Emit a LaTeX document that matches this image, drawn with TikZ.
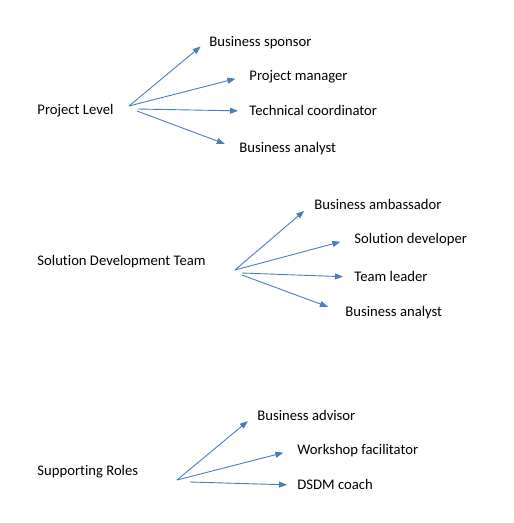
\documentclass[tikz,border=0pt]{standalone}
\usepackage{fontspec}
\setmainfont{Carlito}[Ligatures=NoCommon]
\usepackage{xcolor}
\usetikzlibrary{arrows,arrows.meta}
\definecolor{roleblue}{RGB}{74,126,187}

\begin{document}
\begin{tikzpicture}[x=1pt,y=-1pt,-{Triangle[length=8pt,width=6pt]},color=roleblue,line width=0.9pt]
\useasboundingbox (0,0) rectangle (514,523);
\tikzstyle{every node} = [anchor=west, inner sep=3pt, text=black, text height=1.9ex, text depth=0ex, font=\fontsize{14.67}{17}\selectfont]
\node (1) at (34,110) {Project Level};
\node (2) at (206,42) {Business sponsor};
\node (3) at (246,76) {Project manager};
\node (4) at (246,111) {Technical coordinator};
\node (5) at (236,148) {Business analyst};
\node (6) at (34,261) {Solution Development Team};
\node (7) at (311,205) {Business ambassador};
\node (8) at (351,239) {Solution developer};
\node (9) at (351,277) {Team leader};
\node (10) at (342,312) {Business analyst};
\node (11) at (34,471) {Supporting Roles};
\node (12) at (254,416) {Business advisor};
\node (13) at (294,450) {Workshop facilitator};
\node (14) at (294,485) {DSDM coach};
\coordinate (1a) at (129,106);
\coordinate (1b) at (138,109);
\coordinate (1c) at (137,111);
\coordinate (6a) at (235,270);
\coordinate (6b) at (242,273);
\coordinate (6c) at (242,275);
\coordinate (11a) at (177,480);
\coordinate (11b) at (190,482);
\draw[shorten >=7pt] (1a) -- (2.west);
\draw[shorten >=11pt] (1a) -- (3.west);
\draw[shorten >=8pt] (1b) -- (4.west);
\draw[shorten >=12pt] (1c) -- (5.west);
\draw[shorten >=9pt] (6a) -- (7.west);
\draw[shorten >=11pt] (6a) -- (8.west);
\draw[shorten >=8pt] (6b) -- (9.west);
\draw[shorten >=15pt] (6c) -- (10.west);
\draw[shorten >=8pt] (11a) -- (12.west);
\draw[shorten >=11pt] (11a) -- (13.west);
\draw[shorten >=7pt] (11b) -- (14.west);
\end{tikzpicture}
\end{document}
